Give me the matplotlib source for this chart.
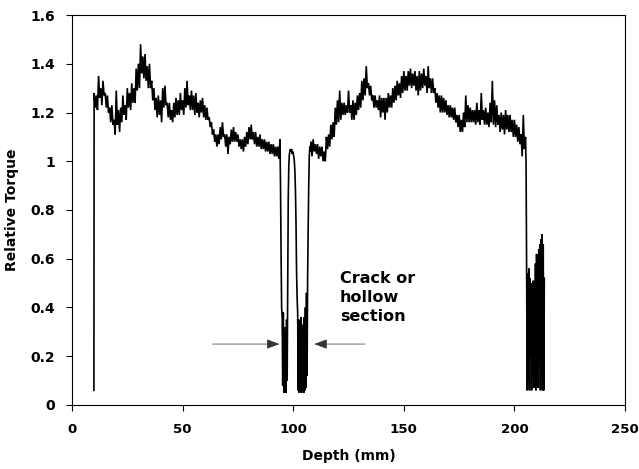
import numpy as np
import matplotlib
matplotlib.use("Agg")
import matplotlib.pyplot as plt

# ---------------- data ----------------
# start of the trace (tool enters the material)
start_depth = [9.9]
start_torque = [0.06]

# intact section before the crack, sampled every 0.5 mm from 10 mm
left_start, left_step = 10.0, 0.5
left_torque = [
    1.28, 1.22, 1.27, 1.21, 1.35, 1.26, 1.30, 1.23, 1.33, 1.27,
    1.28, 1.22, 1.27, 1.20, 1.22, 1.16, 1.23, 1.15, 1.17, 1.11,
    1.29, 1.15, 1.21, 1.12, 1.22, 1.16, 1.27, 1.19, 1.23, 1.17,
    1.30, 1.22, 1.28, 1.21, 1.32, 1.24, 1.30, 1.24, 1.38, 1.29,
    1.40, 1.30, 1.48, 1.36, 1.43, 1.34, 1.44, 1.33, 1.39, 1.30,
    1.40, 1.30, 1.33, 1.25, 1.30, 1.21, 1.26, 1.18, 1.27, 1.19,
    1.25, 1.16, 1.30, 1.22, 1.31, 1.23, 1.24, 1.18, 1.24, 1.17,
    1.21, 1.16, 1.24, 1.18, 1.26, 1.19, 1.25, 1.19, 1.28, 1.21,
    1.25, 1.19, 1.30, 1.22, 1.33, 1.23, 1.27, 1.21, 1.29, 1.21,
    1.27, 1.19, 1.28, 1.20, 1.24, 1.18, 1.25, 1.20, 1.26, 1.18,
    1.23, 1.17, 1.22, 1.17, 1.18, 1.14, 1.16, 1.11, 1.13, 1.08,
    1.11, 1.06, 1.11, 1.07, 1.14, 1.09, 1.16, 1.10, 1.11, 1.06,
    1.11, 1.03, 1.10, 1.07, 1.13, 1.08, 1.14, 1.08, 1.12, 1.08,
    1.11, 1.06, 1.09, 1.05, 1.09, 1.04, 1.10, 1.06, 1.12, 1.07,
    1.14, 1.09, 1.15, 1.09, 1.12, 1.07, 1.12, 1.06, 1.10, 1.06,
    1.11, 1.05, 1.09, 1.05, 1.09, 1.04, 1.08, 1.04, 1.08, 1.03,
    1.07, 1.03, 1.07, 1.02, 1.06, 1.02, 1.06, 1.01, 1.09,
]

# crack / hollow section, sampled every 0.25 mm from 94.25 mm
crack_start, crack_step = 94.25, 0.25
crack_torque = [
    0.90, 0.62, 0.40, 0.36, 0.08, 0.38, 0.05, 0.32, 0.06, 0.30,
    0.05, 0.35, 0.10, 0.48, 0.85, 0.98, 1.03, 1.04, 1.05, 1.04,
    1.05, 1.03, 1.04, 1.03, 1.02, 1.00, 0.96, 0.88, 0.75, 0.55,
    0.44, 0.38, 0.06, 0.35, 0.05, 0.32, 0.06, 0.36, 0.05, 0.30,
    0.06, 0.33, 0.05, 0.36, 0.06, 0.40, 0.07, 0.46, 0.12, 0.52,
    0.72, 0.90, 1.02, 1.06, 1.04,
]

# intact section after the crack, sampled every 0.5 mm from 108 mm
right_start, right_step = 108.0, 0.5
right_torque = [
    1.08, 1.02, 1.09, 1.04, 1.07, 1.03, 1.07, 1.01, 1.06, 1.02,
    1.06, 1.00, 1.04, 1.00, 1.10, 1.05, 1.11, 1.06, 1.15, 1.09,
    1.16, 1.10, 1.22, 1.15, 1.25, 1.16, 1.29, 1.17, 1.24, 1.19,
    1.24, 1.19, 1.23, 1.20, 1.29, 1.20, 1.23, 1.17, 1.25, 1.17,
    1.24, 1.19, 1.27, 1.21, 1.28, 1.22, 1.33, 1.25, 1.34, 1.27,
    1.39, 1.30, 1.32, 1.27, 1.31, 1.25, 1.27, 1.22, 1.27, 1.22,
    1.25, 1.21, 1.27, 1.18, 1.26, 1.20, 1.26, 1.17, 1.26, 1.20,
    1.28, 1.22, 1.27, 1.22, 1.30, 1.24, 1.31, 1.25, 1.33, 1.27,
    1.32, 1.26, 1.35, 1.28, 1.37, 1.29, 1.35, 1.29, 1.37, 1.31,
    1.38, 1.30, 1.36, 1.31, 1.37, 1.29, 1.35, 1.27, 1.37, 1.29,
    1.36, 1.30, 1.38, 1.31, 1.35, 1.28, 1.39, 1.30, 1.34, 1.28,
    1.34, 1.28, 1.30, 1.24, 1.28, 1.22, 1.27, 1.20, 1.27, 1.20,
    1.26, 1.20, 1.25, 1.19, 1.23, 1.18, 1.23, 1.18, 1.22, 1.17,
    1.22, 1.16, 1.19, 1.14, 1.19, 1.12, 1.17, 1.12, 1.20, 1.14,
    1.27, 1.16, 1.23, 1.16, 1.22, 1.16, 1.21, 1.16, 1.21, 1.15,
    1.24, 1.16, 1.21, 1.15, 1.28, 1.17, 1.21, 1.15, 1.22, 1.15,
    1.20, 1.14, 1.24, 1.16, 1.33, 1.15, 1.25, 1.14, 1.23, 1.15,
    1.19, 1.12, 1.20, 1.13, 1.19, 1.11, 1.21, 1.13, 1.19, 1.12,
    1.19, 1.12, 1.17, 1.10, 1.17, 1.10, 1.15, 1.08, 1.14, 1.07,
    1.11, 1.02, 1.19, 1.05, 1.10,
]

# exit region (tool leaves the sample), sampled every 0.25 mm from 205.25 mm
tail_start, tail_step = 205.25, 0.25
tail_torque = [
    0.99, 0.55, 0.06, 0.54, 0.10, 0.56, 0.06, 0.52, 0.20, 0.50,
    0.06, 0.49, 0.12, 0.51, 0.07, 0.50, 0.15, 0.58, 0.06, 0.62,
    0.09, 0.60, 0.07, 0.64, 0.18, 0.66, 0.06, 0.68, 0.10, 0.70,
    0.06, 0.66, 0.06, 0.52,
]

x_ticks = [0, 50, 100, 150, 200, 250]
y_ticks = [0, 0.2, 0.4, 0.6, 0.8, 1.0, 1.2, 1.4, 1.6]
y_tick_labels = ["0", "0.2", "0.4", "0.6", "0.8", "1", "1.2", "1.4", "1.6"]

annotation_text = "Crack or\nhollow\nsection"
arrow_y = 0.25
left_arrow = (63.5, 93.8)    # tail, head (depth)
right_arrow = (132.5, 109.5)  # tail, head (depth)

# ---------------- build the series ----------------
def seg(start, step, vals):
    return start + step * np.arange(len(vals))

depth = np.concatenate([
    np.array(start_depth),
    seg(left_start, left_step, left_torque),
    seg(crack_start, crack_step, crack_torque),
    seg(right_start, right_step, right_torque),
    seg(tail_start, tail_step, tail_torque),
])
torque = np.concatenate([start_torque, left_torque, crack_torque,
                         right_torque, tail_torque])

# ---------------- plot ----------------
plt.rcParams['font.family'] = ['DejaVu Sans']
plt.rcParams['path.simplify'] = False
fig = plt.figure(figsize=(6.39, 4.69), dpi=100)
ax = fig.add_axes([0.1127, 0.1365, 0.8655, 0.8315])

ax.plot(depth, torque, color="black", linewidth=1.2, solid_joinstyle="miter")

ax.set_xlim(0, 250)
ax.set_ylim(0, 1.6)
ax.set_xticks(x_ticks)
ax.set_xticklabels([str(v) for v in x_ticks], fontsize=9.6, fontweight="bold")
ax.set_yticks(y_ticks)
ax.set_yticklabels(y_tick_labels, fontsize=10, fontweight="bold")
ax.tick_params(direction="out", length=4, width=0.8)
ax.tick_params(axis="x", pad=9)
ax.tick_params(axis="y", pad=8)
for s in ax.spines.values():
    s.set_linewidth(0.8)

ax.set_xlabel("Depth (mm)", fontsize=10, fontweight="bold", labelpad=9)
ax.set_ylabel("Relative Torque", fontsize=10, fontweight="bold", labelpad=8)

ax.text(121.0, 0.55, annotation_text, fontsize=11.5, fontweight="bold",
        ha="left", va="top", linespacing=1.35)

for tail_x, head_x in (left_arrow, right_arrow):
    ax.annotate("", xy=(head_x, arrow_y), xytext=(tail_x, arrow_y),
                arrowprops=dict(arrowstyle="-|>,head_length=0.8,head_width=0.3",
                                color="#333333", linewidth=0.5,
                                shrinkA=0, shrinkB=0))

fig.savefig("out.png", dpi=100)
